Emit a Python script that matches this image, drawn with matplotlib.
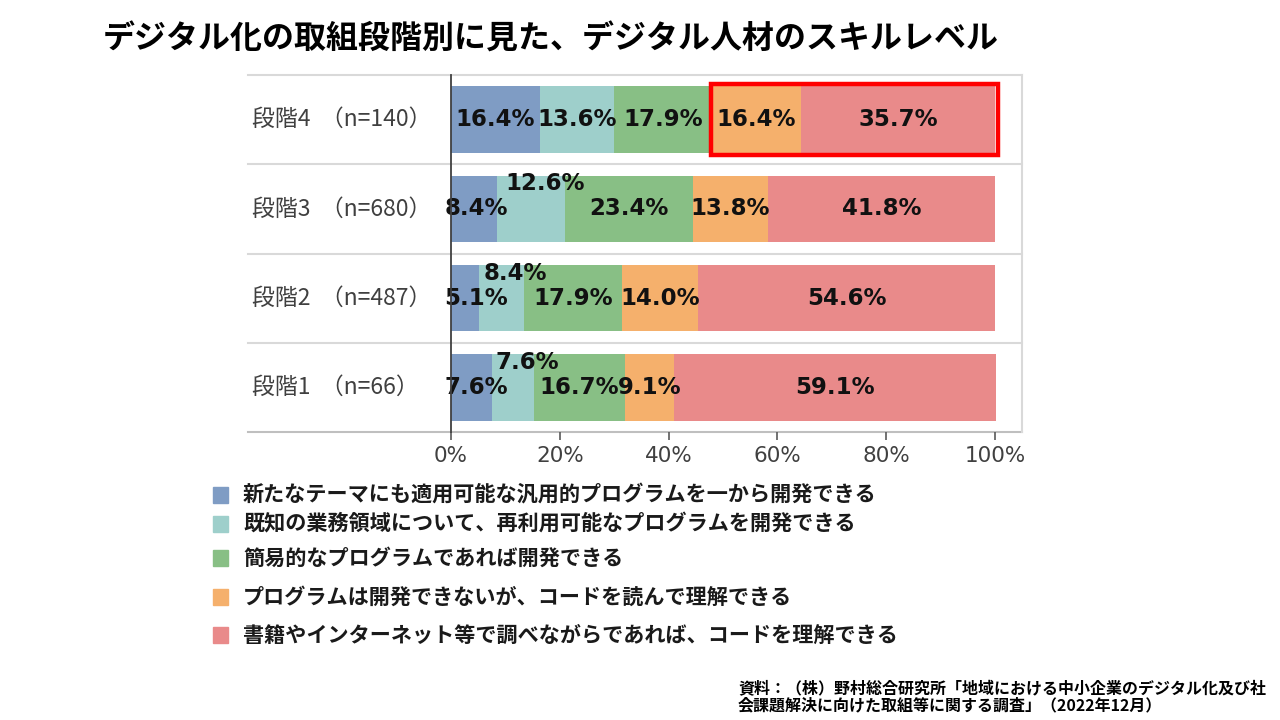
import matplotlib
matplotlib.use('Agg')
import matplotlib.pyplot as plt
from matplotlib.patches import Rectangle
import matplotlib.transforms as mtransforms

plt.rcParams['font.family'] = ['Noto Sans CJK JP', 'DejaVu Sans']

# dados do grafico (de cima para baixo)
estagios = ['段階4', '段階3', '段階2', '段階1']
amostras = [140, 680, 487, 66]
serie1 = [16.4, 8.4, 5.1, 7.6]
serie2 = [13.6, 12.6, 8.4, 7.6]
serie3 = [17.9, 23.4, 17.9, 16.7]
serie4 = [16.4, 13.8, 14.0, 9.1]
serie5 = [35.7, 41.8, 54.6, 59.1]
legendas = ['新たなテーマにも適用可能な汎用的プログラムを一から開発できる',
            '既知の業務領域について、再利用可能なプログラムを開発できる',
            '簡易的なプログラムであれば開発できる',
            'プログラムは開発できないが、コードを読んで理解できる',
            '書籍やインターネット等で調べながらであれば、コードを理解できる']
ticks = [0, 20, 40, 60, 80, 100]

cores = ['#7f9cc4', '#9ecfcb', '#88bf85', '#f5b06c', '#e98a8a']
series = [serie1, serie2, serie3, serie4, serie5]

fig = plt.figure(figsize=(12.8, 7.2), dpi=100)
ax = fig.add_axes([451 / 1280, 0.4, 571 / 1280, 357 / 720])

# posicoes y: 段階4 em cima
ys = [3 - i for i in range(len(estagios))]

esquerda = [0.0] * len(estagios)
for k, (serie, cor) in enumerate(zip(series, cores)):
    ax.barh(ys, serie, left=esquerda, height=0.745, color=cor, edgecolor='none')
    for i, v in enumerate(serie):
        cx = esquerda[i] + v / 2
        cy = ys[i]
        if k == 0:
            cx = max(cx, 4.6)
        if k == 1 and v < 13:
            cx += 2.6
            cy += 0.28
        ax.text(cx, cy, f'{v:.1f}%', ha='center', va='center', fontsize=16.5,
                fontweight='bold', color='#111111', family='DejaVu Sans')
    esquerda = [a + b for a, b in zip(esquerda, serie)]

ax.set_xlim(0, 571 / 5.44)
ax.set_ylim(-0.5, 3.5)

# caixa vermelha no 段階4
ax.add_patch(Rectangle((47.8, 3 - 0.395), 52.8, 0.79, fill=False, edgecolor='#ff0000',
                       lw=3.2, clip_on=False, zorder=5))

# linhas separadoras
for y in [0.5, 1.5, 2.5, 3.5]:
    ax.axhline(y, xmin=-0.356, xmax=1, color='#d9d9d9', lw=1.5, clip_on=False, zorder=0)
ax.axhline(-0.5, xmin=-0.356, xmax=1, color='#bfbfbf', lw=1.5, clip_on=False, zorder=1)

for lado in ['top', 'bottom']:
    ax.spines[lado].set_visible(False)
ax.spines['right'].set_color('#d9d9d9')
ax.spines['right'].set_linewidth(1.5)
ax.spines['left'].set_color('#404040')
ax.spines['left'].set_linewidth(1.3)
ax.spines['left'].set_zorder(6)

ax.set_yticks([])
ax.set_xticks(ticks)
ax.set_xticklabels([f'{t}%' for t in ticks], family='DejaVu Sans')
ax.tick_params(axis='x', direction='out', length=6, width=1.2, color='#595959',
               labelsize=15.5, labelcolor='#404040', pad=4)

# rotulos das categorias
trans = mtransforms.blended_transform_factory(ax.transAxes, ax.transData)
for y, est, n in zip(ys, estagios, amostras):
    ax.text(-0.348, y, f'{est}  （n={n}）', transform=trans, ha='left', va='center',
            fontsize=16.5, color='#404040')

# titulo
fig.text(103 / 1280, 1 - 40 / 720, 'デジタル化の取組段階別に見た、デジタル人材のスキルレベル',
         fontsize=23, fontweight='bold', va='center', ha='left', color='#000000')

# legenda manual
legenda_y = [495, 524, 558, 597, 635]
for cor, texto, py in zip(cores, legendas, legenda_y):
    fig.patches.append(Rectangle((213 / 1280, 1 - (py + 8) / 720), 15 / 1280, 16 / 720,
                                 color=cor, transform=fig.transFigure, figure=fig))
    fig.text(243 / 1280, 1 - py / 720, texto, fontsize=15.2, fontweight='bold',
             va='center', ha='left', color='#1a1a1a')

# fonte
fig.text(738 / 1280, 1 - 680 / 720,
         '資料：（株）野村総合研究所「地域における中小企業のデジタル化及び社\n'
         '会課題解決に向けた取組等に関する調査」（2022年12月）',
         fontsize=11.5, fontweight='bold', va='top', ha='left', linespacing=1.1,
         color='#000000')

fig.savefig('out.png', dpi=100)
